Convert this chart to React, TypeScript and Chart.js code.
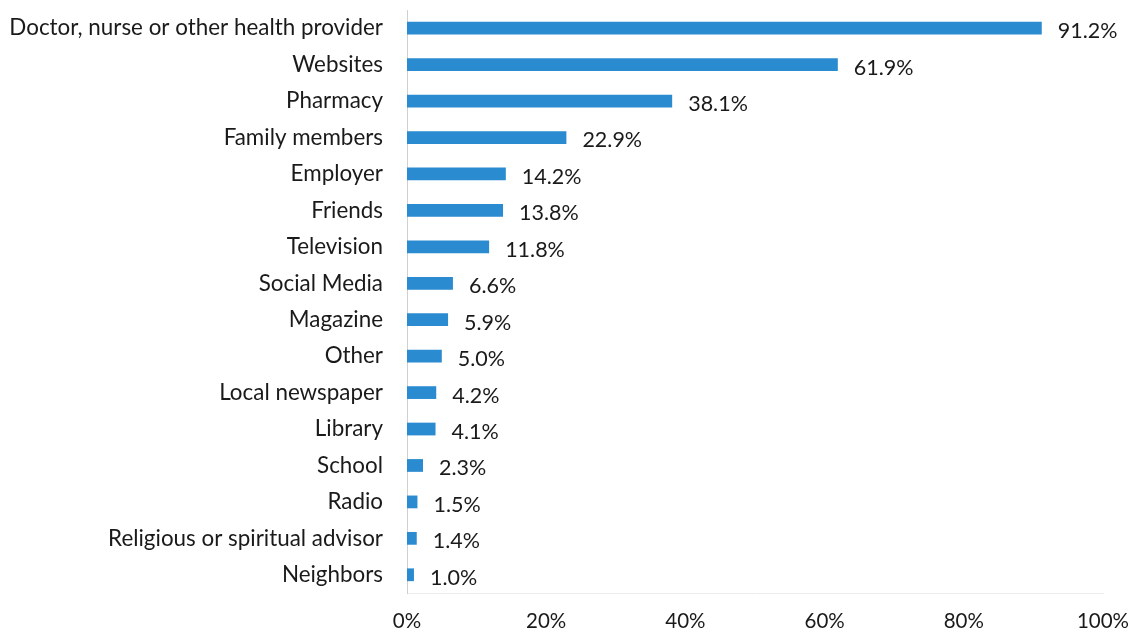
import React, { useEffect, useRef } from "react";
import { Chart, registerables } from "chart.js";

Chart.register(...registerables);

const categories = [
  "Doctor, nurse or other health provider",
  "Websites",
  "Pharmacy",
  "Family members",
  "Employer",
  "Friends",
  "Television",
  "Social Media",
  "Magazine",
  "Other",
  "Local newspaper",
  "Library",
  "School",
  "Radio",
  "Religious or spiritual advisor",
  "Neighbors",
];
const values = [91.2, 61.9, 38.1, 22.9, 14.2, 13.8, 11.8, 6.6, 5.9, 5.0, 4.2, 4.1, 2.3, 1.5, 1.4, 1.0];
const xTicks = [0, 20, 40, 60, 80, 100];

const FONT = "Lato, 'Open Sans', sans-serif";

const valueLabels = {
  id: "valueLabels",
  afterDatasetsDraw(chart: any) {
    const ctx = chart.ctx;
    const meta = chart.getDatasetMeta(0);
    ctx.save();
    ctx.font = `21.5px ${FONT}`;
    ctx.fillStyle = "#1a1a1a";
    ctx.textAlign = "left";
    ctx.textBaseline = "middle";
    meta.data.forEach((bar: any, i: number) => {
      ctx.fillText(values[i].toFixed(1) + "%", bar.x + 16, bar.y + 3);
    });
    ctx.restore();
  },
};

export default function App() {
  const ref = useRef<HTMLCanvasElement>(null);
  useEffect(() => {
    if (!ref.current) return;
    const chart = new Chart(ref.current, {
      type: "bar",
      data: {
        labels: categories,
        datasets: [
          {
            data: values,
            backgroundColor: "#2b8bd0",
            borderWidth: 0,
            categoryPercentage: 1,
            barPercentage: 0.35,
          },
        ],
      },
      options: {
        indexAxis: "y",
        animation: false,
        responsive: false,
        maintainAspectRatio: false,
        layout: { padding: { top: 10, right: 31, left: 0, bottom: 0 } },
        plugins: { legend: { display: false }, tooltip: { enabled: false } },
        scales: {
          x: {
            min: 0,
            max: 100,
            afterBuildTicks: (s: any) => {
              s.ticks = xTicks.map((v) => ({ value: v }));
            },
            afterFit: (s: any) => {
              s.height = 41;
              s.paddingLeft = 0;
              s.paddingRight = 0;
            },
            grid: { display: false, drawTicks: false },
            border: { display: true, color: "#ececec", width: 1 },
            ticks: {
              padding: 16,
              color: "#1a1a1a",
              font: { family: FONT, size: 20.5 },
              callback: (v: any) => v + "%",
            },
          },
          y: {
            afterFit: (s: any) => {
              s.width = 407;
              s.paddingTop = 0;
              s.paddingBottom = 0;
            },
            grid: { display: false, drawTicks: false },
            border: { display: true, color: "#d0d0d0", width: 1 },
            ticks: {
              padding: 24,
              color: "#1a1a1a",
              font: { family: FONT, size: 22.4 },
              autoSkip: false,
            },
          },
        },
      },
      plugins: [valueLabels],
    });
    return () => chart.destroy();
  }, []);
  return (
    <div style={{ position: "fixed", left: 0, top: 0, width: 1134, height: 634, background: "#fff" }}>
      <canvas ref={ref} width={1134} height={634} />
    </div>
  );
}
